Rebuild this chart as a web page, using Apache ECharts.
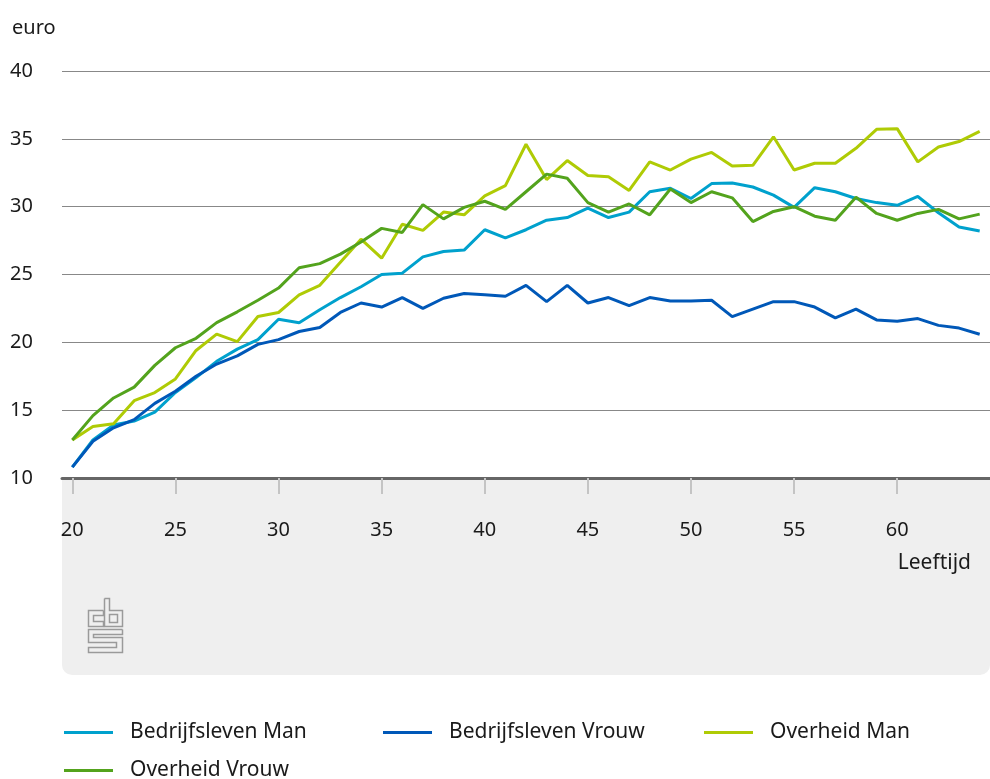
<!DOCTYPE html>
<html>
<head>
<meta charset="utf-8">
<script src="https://cdn.jsdelivr.net/npm/echarts@6/dist/echarts.min.js"></script>
<style>
  html, body { margin: 0; padding: 0; background: #fff; }
  #chart { width: 990px; height: 779px; }
</style>
</head>
<body>
<div id="chart"></div>
<script>
// leeftijden
var ages = ['20','21','22','23','24','25','26','27','28','29','30','31','32','33','34','35','36','37','38','39','40','41','42','43','44','45','46','47','48','49','50','51','52','53','54','55','56','57','58','59','60','61','62','63','64'];

// uurloon in euro
var bedrijfslevenMan = [10.8,12.8,13.9,14.2,14.85,16.3,17.4,18.6,19.5,20.2,21.7,21.45,22.4,23.3,24.1,25.0,
  25.1,26.3,26.7,26.8,28.3,27.7,28.3,29.0,29.2,29.9,29.2,29.6,31.1,31.35,30.6,
  31.7,31.75,31.45,30.85,29.95,31.4,31.1,30.6,30.3,30.1,30.75,29.55,28.5,28.2];
var bedrijfslevenVrouw = [10.8,12.7,13.7,14.3,15.5,16.4,17.5,18.4,19.0,19.85,20.2,20.8,21.1,22.2,22.9,22.6,
  23.3,22.5,23.25,23.6,23.5,23.4,24.2,23.0,24.2,22.9,23.3,22.7,23.3,23.05,23.05,
  23.1,21.9,22.45,23.0,23.0,22.6,21.8,22.45,21.65,21.55,21.75,21.25,21.05,20.6];
var overheidMan = [12.8,13.8,14.0,15.7,16.3,17.3,19.4,20.6,20.05,21.9,22.2,23.5,24.2,25.9,27.6,26.2,
  28.7,28.25,29.6,29.4,30.8,31.55,34.6,32.0,33.4,32.3,32.2,31.2,33.3,32.7,33.5,
  34.0,33.0,33.05,35.15,32.7,33.2,33.2,34.3,35.7,35.75,33.3,34.4,34.8,35.55];
var overheidVrouw = [12.8,14.6,15.9,16.7,18.3,19.6,20.3,21.45,22.25,23.1,24.0,25.5,25.8,26.5,27.4,28.4,
  28.1,30.15,29.1,29.95,30.4,29.8,31.1,32.4,32.1,30.3,29.6,30.2,29.4,31.3,30.3,
  31.1,30.65,28.9,29.65,30.0,29.3,29.0,30.7,29.5,29.0,29.5,29.8,29.1,29.45];

var seriesNames = ['Bedrijfsleven Man', 'Bedrijfsleven Vrouw', 'Overheid Man', 'Overheid Vrouw'];
var seriesData = [bedrijfslevenMan, bedrijfslevenVrouw, overheidMan, overheidVrouw];
var colors = ['#00a1cd', '#0058b8', '#afcb05', '#53a31d'];

var font = 'Noto Sans';
var textColor = '#1a1a1a';
var logoGrey = '#9a9a9a';

var chart = echarts.init(document.getElementById('chart'), null, { renderer: 'canvas' });

// legenda: een component per item, zodat de kolommen vast staan
var legendPos = [[59, 717], [378, 717], [699, 717], [59, 755]];
var legends = seriesNames.map(function (name, i) {
  return {
    data: [name],
    left: legendPos[i][0],
    top: legendPos[i][1],
    icon: 'rect',
    itemWidth: 49,
    itemHeight: 3,
    textStyle: { fontFamily: font, fontSize: 21, color: textColor, padding: [0, 0, 0, 12] }
  };
});

function logoLine(points) {
  return { type: 'polyline', shape: { points: points }, style: { stroke: logoGrey, fill: 'none', lineWidth: 1.5 } };
}

chart.setOption({
  animation: false,
  color: colors,
  grid: { left: 62, right: -5, top: 71, bottom: 301 },
  legend: legends,
  xAxis: {
    type: 'category',
    data: ages,
    boundaryGap: true,
    z: 10,
    axisLine: { lineStyle: { color: '#666', width: 3 } },
    axisTick: { show: true, interval: 4, alignWithLabel: true, length: 16, lineStyle: { color: '#c4c4c4', width: 2 } },
    axisLabel: { interval: 4, margin: 42, fontFamily: font, fontSize: 20, color: textColor }
  },
  yAxis: {
    type: 'value',
    min: 10,
    max: 40,
    interval: 5,
    axisLine: { show: false },
    axisTick: { show: false },
    axisLabel: { align: 'left', margin: 52, fontFamily: font, fontSize: 20, color: textColor },
    splitLine: { lineStyle: { color: '#888', width: 1 } }
  },
  graphic: [
    {
      type: 'rect', z: -100, zlevel: 0, silent: true,
      shape: { x: 62, y: 480, width: 928, height: 195, r: [0, 0, 10, 10] },
      style: { fill: '#efefef' }
    },
    {
      type: 'text', left: 12, top: 18,
      style: { text: 'euro', fontFamily: font, fontSize: 20, fill: textColor }
    },
    {
      type: 'text', right: 19, top: 553,
      style: { text: 'Leeftijd', fontFamily: font, fontSize: 21, fill: textColor }
    },
    {
      type: 'group', left: 86, top: 596,
      children: [
        logoLine([[15, 12], [0, 12], [0, 28], [15, 28], [15, 23], [5, 23], [5, 17], [15, 17], [15, 12]]),
        logoLine([[16, 0], [21, 0], [21, 12], [34, 12], [34, 28], [16, 28], [16, 0]]),
        { type: 'rect', shape: { x: 21, y: 16, width: 8, height: 8 }, style: { stroke: logoGrey, fill: 'none', lineWidth: 1.5 } },
        logoLine([[34, 31], [0, 31], [0, 44], [28, 44], [28, 49], [0, 49], [0, 54], [34, 54], [34, 39], [5, 39], [5, 36], [34, 36], [34, 31]])
      ]
    }
  ],
  series: seriesNames.map(function (name, i) {
    return {
      name: name,
      type: 'line',
      data: seriesData[i],
      symbol: 'none',
      lineStyle: { width: 3, color: colors[i] },
      z: 3 + i
    };
  })
});

window.addEventListener('resize', chart.resize);
</script>
</body>
</html>
